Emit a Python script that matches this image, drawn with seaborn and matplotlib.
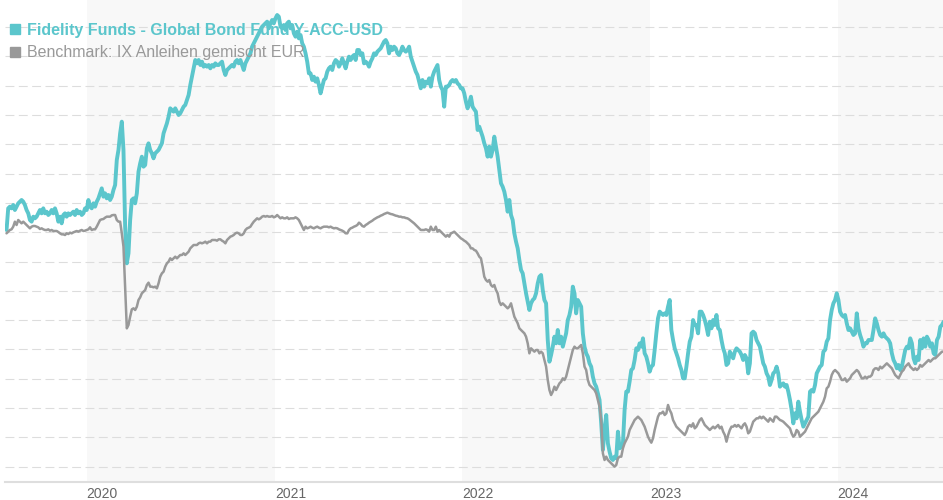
import numpy as np
import pandas as pd
import matplotlib
matplotlib.use("Agg")
import matplotlib.pyplot as plt
import matplotlib.dates as mdates
from matplotlib.lines import Line2D
import seaborn as sns

# Series names shown in the legend
fund_name = "Fidelity Funds - Global Bond Fund Y-ACC-USD"
bench_name = "Benchmark: IX Anleihen gemischt EUR"

# Sampling of the price history (one observation every 78 hours)
start_date = "2019-07-29"
sample_step = "78h"

# Fund index level
fund_values = [
    71.0, 77.5, 78.0, 77.5, 78.5, 77.0, 78.0, 79.0, 79.5, 80.0,
    79.5, 78.5, 77.0, 76.0, 74.0, 73.5, 75.0, 74.5, 75.0, 76.0,
    77.0, 76.0, 77.5, 76.0, 76.5, 75.5, 76.0, 77.0, 76.0, 77.5,
    76.0, 73.5, 75.0, 73.0, 75.5, 76.0, 75.0, 76.0, 75.5, 76.0,
    76.5, 75.5, 77.0, 76.0, 76.5, 75.5, 76.0, 77.5, 77.0, 80.0,
    78.0, 77.5, 79.0, 78.0, 79.5, 80.5, 82.0, 83.5, 81.0, 82.0,
    80.5, 81.5, 80.0, 81.0, 83.0, 84.5, 92.0, 95.0, 100.0, 103.5,
    95.0, 72.0, 61.0, 64.0, 74.0, 80.0, 80.5, 79.0, 82.0, 88.5,
    91.0, 93.0, 90.0, 90.5, 95.5, 97.0, 95.0, 94.0, 92.5,
    94.0, 94.5, 95.0, 96.0, 97.0, 100.0, 101.5, 103.0, 105.0, 107.5,
    107.0, 106.5, 107.5, 106.5, 105.5, 106.0, 107.0, 108.0, 108.5, 110.0,
    111.5, 114.5, 117.0, 119.5, 122.0, 121.0, 122.0, 120.5, 121.5, 120.0,
    120.5, 120.0, 120.5, 119.5, 120.5, 120.0, 121.0, 120.5, 120.5, 121.0,
    121.5, 119.0, 117.5, 119.0, 119.5, 120.0, 120.5, 120.0, 121.5, 122.0,
    121.0, 122.0, 120.5, 119.0, 121.0, 122.0, 123.0, 124.0, 126.0, 127.0,
    128.0, 129.0, 130.0, 131.0, 132.0, 132.5, 133.0, 133.5, 131.5, 133.0,
    134.0, 133.0, 134.5, 135.5, 135.0, 132.0, 131.5, 132.5, 131.0, 133.0,
    133.5, 131.5, 132.5, 130.0, 129.0, 130.5, 128.5, 129.5, 127.0, 126.0,
    124.0, 121.5, 118.0,
    118.0, 116.0, 117.0, 115.5, 116.5, 114.5, 112.0, 114.0, 116.0, 116.5,
    118.5, 119.5, 120.0, 119.0, 121.0, 122.0, 121.5, 120.0, 121.0, 122.5,
    121.0, 119.5, 121.5, 123.0, 122.0, 123.0, 123.5, 122.0, 125.0, 125.0,
    123.5, 124.0, 121.0, 121.5, 121.0, 120.0, 121.5, 122.5, 124.0, 123.5,
    124.5, 125.0, 125.5, 126.5, 127.5, 128.0, 127.0, 124.0, 126.0, 125.0,
    126.0, 125.5, 124.0, 123.5, 124.5, 126.0, 125.0, 124.5, 125.0, 126.0,
    123.0, 121.5, 120.0, 118.5, 117.5, 115.5, 113.5, 116.0, 114.0, 115.5,
    115.0, 116.5, 114.0, 117.0, 118.5, 119.5, 120.5, 116.0, 114.0, 113.0,
    108.0, 114.0, 114.0, 114.5, 115.5, 116.0, 115.5, 116.0, 115.0, 114.5,
    113.5, 113.5, 112.0,
    109.5, 107.5, 109.0, 111.0, 108.0, 107.2, 106.5, 101.0, 102.0, 100.5,
    99.0, 97.0, 95.5, 93.0, 96.0, 93.0, 95.0, 99.0, 96.0, 93.0,
    89.0, 85.0, 84.0, 82.5, 80.0, 76.5, 80.0, 75.5, 74.0, 70.0,
    67.5, 65.5, 62.0, 59.0, 58.0, 55.0, 52.0, 49.5, 47.0, 49.0,
    50.0, 50.5, 52.0, 55.0, 57.0, 57.5, 53.0, 50.0, 49.0, 38.0,
    31.5, 33.5, 36.0, 39.0, 37.0, 41.0, 37.0, 39.0, 36.0, 38.0,
    40.0, 44.0, 45.5, 48.0, 54.0, 52.0, 46.0, 50.0, 49.0, 48.0,
    40.0, 36.0, 34.0, 33.0, 31.0, 30.0, 27.0, 25.0, 24.0, 22.0,
    20.0, 13.0, 5.0, 11.0, 15.5, 7.0, 4.5, 2.5, 2.0, 3.0,
    2.5, 10.5, 5.5,
    6.0, 7.0, 17.0, 22.5, 22.5, 25.5, 29.0, 29.5, 32.0, 35.5,
    35.0, 37.0, 36.0, 38.5, 34.0, 33.0, 31.0, 28.5, 30.0, 30.5,
    35.0, 40.0, 44.5, 46.5, 46.0, 45.5, 46.0, 45.5, 48.0, 50.0,
    41.0, 38.0, 35.5, 34.0, 32.5, 30.5, 29.0, 26.5, 26.5, 30.0,
    34.0, 37.5, 39.0, 44.0, 42.5, 42.5, 40.0, 46.5, 46.5, 45.5,
    44.0, 42.0, 39.5, 43.5, 41.5, 44.0, 42.5, 45.5, 41.5, 41.0,
    38.0, 35.5, 34.0, 30.5, 31.0, 34.5, 33.5, 32.5, 34.5, 35.5,
    35.0, 34.5, 33.5, 32.0, 33.5, 32.5, 28.0, 31.0, 40.0, 40.5,
    40.0, 38.0, 37.0, 36.0, 33.5, 31.0, 30.0, 28.0, 27.0, 24.5,
    26.0, 28.0, 28.5,
    30.0, 28.0, 24.0, 24.5, 25.0, 24.0, 24.5, 22.5, 20.0, 17.0,
    13.0, 16.0, 14.5, 19.5, 16.5, 14.0, 12.0, 13.0, 14.0, 15.0,
    22.5, 23.0, 22.5, 24.5, 28.0, 29.0, 30.0, 30.5, 34.5, 35.0,
    37.5, 38.5, 44.0, 47.0, 49.0, 50.0, 52.0, 50.0, 46.5, 45.5,
    45.0, 45.5, 43.0, 41.0, 41.5, 40.5, 39.5, 40.0, 46.0, 41.5,
    39.5, 38.0, 36.0, 37.0, 37.0, 38.0, 38.0, 38.0, 41.0, 44.5,
    43.0, 41.0, 39.5, 39.0, 40.0, 39.0, 38.5, 38.0, 37.0, 34.0,
    32.0, 31.0, 29.5, 30.5, 29.0, 30.0, 32.5, 35.0, 36.0, 35.5,
    38.5, 37.0, 32.5, 31.0, 33.0, 32.0, 38.0, 35.5, 38.5, 36.0,
    39.0, 38.0, 36.0, 37.0, 34.0, 33.5, 38.0, 39.0, 42.0, 42.5,
    43.5,
]

# Benchmark index level
bench_values = [
    70.0, 70.5, 71.0, 71.2, 72.0, 73.5, 72.5, 74.0, 73.5, 73.0,
    73.5, 73.0, 72.5, 72.0, 71.5, 72.0, 72.2, 72.2, 72.0, 71.8,
    71.3, 71.5, 71.2, 71.0, 71.0, 71.2, 70.8, 71.0, 70.7, 70.7,
    70.7, 70.4, 70.0, 69.7, 69.7, 69.5, 70.0, 69.8, 70.2, 70.0,
    70.3, 70.5, 70.7, 70.5, 70.8, 71.0, 70.7, 70.8, 71.0, 71.2,
    71.8, 71.0, 71.2, 71.2, 72.0, 73.0, 74.0, 74.2, 74.3, 74.7,
    75.0, 75.0, 75.0, 75.4, 75.5, 75.5, 74.0, 73.5, 73.5, 70.0,
    66.0, 54.0, 41.5, 42.5, 45.0, 47.2, 47.5, 47.0, 48.0, 50.0,
    50.8, 52.0, 52.5, 53.0, 54.5, 55.2, 54.0, 54.0, 53.8,
    54.0, 53.5, 55.0, 57.0, 58.0, 58.5, 60.0, 61.0, 61.5, 62.5,
    62.0, 62.5, 63.0, 62.5, 63.0, 63.5, 63.5, 64.0, 63.5, 64.0,
    64.5, 65.5, 66.0, 66.5, 66.5, 66.5, 67.0, 67.2, 67.0, 67.2,
    67.5, 67.0, 67.5, 67.5, 68.0, 68.0, 68.0, 67.8, 68.2, 68.2,
    67.8, 67.5, 67.0, 68.0, 68.5, 69.0, 69.2, 69.5, 70.0, 70.2,
    70.0, 69.5, 69.5, 70.0, 71.0, 71.5, 71.7, 72.0, 72.8, 73.5,
    74.0, 74.5, 74.2, 74.5, 75.0, 75.2, 75.0, 75.2, 75.0, 75.0,
    75.2, 74.8, 75.0, 75.5, 75.0, 74.5, 74.8, 74.5, 74.5, 74.8,
    74.3, 74.5, 74.5, 74.5, 74.8, 74.5, 74.0, 73.0, 72.0, 71.0,
    72.0, 71.5, 71.7,
    72.0, 71.7, 71.5, 71.8, 72.0, 71.7, 71.5, 71.8, 72.0, 72.0,
    72.0, 71.8, 72.0, 71.7, 71.5, 71.6, 71.5, 71.2, 71.0, 70.8,
    70.5, 70.0, 70.0, 71.0, 71.5, 71.7, 72.0, 72.2, 72.5, 73.2,
    72.8, 72.2, 72.0, 72.5, 72.8, 73.2, 73.5, 73.8, 74.2, 74.5,
    74.8, 75.0, 75.3, 75.5, 75.8, 76.0, 76.2, 76.0, 75.8, 75.7,
    75.5, 75.3, 75.2, 75.0, 75.0, 74.8, 74.8, 74.6, 74.5, 74.2,
    73.8, 73.4, 73.0, 72.5, 72.0, 71.5, 71.0, 71.0, 71.0, 71.2,
    71.0, 70.5, 72.0, 71.0, 71.0, 72.0, 70.5, 71.0, 70.5, 70.0,
    69.5, 69.0, 69.5, 69.0, 70.0, 70.2, 70.5, 70.0, 69.5, 69.0,
    68.5, 68.2, 67.8,
    67.5, 67.0, 66.5, 65.5, 65.5, 65.0, 64.8, 64.0, 63.0, 62.5,
    60.0, 57.0, 56.0, 55.5, 56.0, 54.5, 54.0, 54.5, 53.0, 52.0,
    49.5, 48.5, 49.0, 48.5, 48.0, 47.5, 48.0, 49.0, 47.0, 45.0,
    44.0, 43.0, 41.5, 41.0, 40.5, 40.0, 39.0, 37.0, 34.0, 35.5,
    35.0, 34.5, 35.0, 35.0, 34.0, 34.5, 34.0, 32.0, 30.0, 26.0,
    23.0, 21.5, 22.5, 24.0, 23.0, 24.0, 25.0, 25.5, 26.5, 26.0,
    27.0, 29.0, 31.0, 33.0, 35.0, 36.0, 35.5, 35.5, 36.0, 36.5,
    34.0, 30.0, 29.0, 26.0, 24.5, 24.0, 23.5, 23.0, 22.0, 20.0,
    18.0, 14.0, 4.0, 2.0, 3.0, 2.0, 1.5, 1.0, 0.5, 0.0,
    0.5, 2.5, 3.0,
    3.0, 5.5, 7.0, 8.0, 9.0, 11.0, 12.0, 13.0, 14.0, 14.5,
    15.0, 14.5, 14.0, 13.0, 12.0, 10.5, 9.0, 8.0, 7.2, 8.5,
    11.0, 13.0, 15.0, 16.0, 16.0, 16.5, 15.5, 16.0, 18.5, 17.0,
    16.0, 14.0, 13.0, 12.0, 11.5, 11.0, 10.5, 10.0, 9.5, 10.5,
    12.0, 12.5, 12.0, 13.0, 11.5, 12.0, 13.0, 14.0, 14.5, 13.5,
    12.5, 12.0, 11.5, 11.0, 11.5, 12.0, 11.5, 12.0, 12.5, 11.5,
    12.0, 10.5, 9.5, 7.5, 9.5, 11.0, 12.0, 12.0, 12.5, 12.0,
    12.5, 12.0, 11.5, 12.5, 13.0, 12.0, 10.0, 10.5, 12.0, 13.5,
    14.0, 14.5, 14.5, 15.0, 14.5, 15.0, 14.5, 14.0, 13.5, 14.5,
    14.0, 13.5, 15.0,
    15.0, 14.5, 14.0, 13.8, 13.5, 13.0, 12.5, 12.0, 11.5, 10.0,
    9.0, 9.5, 11.0, 10.5, 9.0, 9.5, 10.0, 10.5, 11.5, 12.5,
    13.5, 14.5, 15.0, 15.5, 16.0, 16.5, 17.5, 18.5, 19.5, 21.0,
    23.5, 24.0, 25.5, 27.5, 28.5, 29.0, 28.5, 28.0, 27.0, 26.0,
    26.0, 26.5, 25.5, 26.0, 26.5, 27.5, 28.0, 28.5, 29.0, 28.5,
    27.5, 26.5, 26.5, 27.0, 26.5, 27.0, 27.0, 27.5, 29.0, 29.5,
    29.5, 29.0, 30.0, 29.5, 30.0, 30.5, 31.0, 30.5, 30.0, 29.5,
    28.5, 27.5, 27.0, 26.5, 27.5, 28.5, 29.0, 30.0, 30.5, 31.0,
    30.0, 29.5, 29.0, 29.5, 29.0, 29.5, 30.5, 30.0, 30.5, 31.0,
    31.5, 32.0, 31.5, 32.0, 32.5, 32.5, 33.0, 33.5, 34.0, 34.5,
    34.5,
]

# Alternate years get a light background band
shaded_years = [2020, 2022, 2024]

fund_color = "#5bc6cc"
bench_color = "#999999"

dates = pd.date_range(start_date, periods=len(fund_values), freq=sample_step)
df = pd.DataFrame({"date": dates, "fund": fund_values, "bench": bench_values})

sns.set_theme(style="white")
plt.rcParams["font.family"] = ["Liberation Sans", "DejaVu Sans"]

fig = plt.figure(figsize=(9.43, 5.0), dpi=100)
ax = fig.add_axes([5 / 943, 18 / 500, 938 / 943, 482 / 500])

for yr in shaded_years:
    ax.axvspan(pd.Timestamp(f"{yr}-01-01"), pd.Timestamp(f"{yr + 1}-01-01"),
               color="#f8f8f8", lw=0, zorder=0)

sns.lineplot(data=df, x="date", y="fund", color=fund_color, linewidth=2.8,
             ax=ax, zorder=3)
sns.lineplot(data=df, x="date", y="bench", color=bench_color, linewidth=1.8,
             ax=ax, zorder=4)

# Horizontal dashed guide lines, no value labels
grid_step = 8.79
ax.set_yticks(np.arange(16) * grid_step)
ax.set_yticklabels([])
ax.yaxis.grid(True, color="#dddddd", linestyle=(0, (8, 4)), linewidth=0.8)
ax.xaxis.grid(False)
ax.set_axisbelow(True)
ax.set_ylim(-4.6, 140)
ax.set_xlim(pd.Timestamp("2019-07-26"), pd.Timestamp("2024-07-24"))
ax.set_xlabel("")
ax.set_ylabel("")

ax.xaxis.set_major_locator(mdates.YearLocator())
ax.xaxis.set_major_formatter(mdates.DateFormatter("%Y"))
ax.tick_params(axis="x", length=0, pad=3.5, labelsize=10, labelcolor="#666666")
ax.tick_params(axis="y", length=0)
for lbl in ax.get_xticklabels():
    lbl.set_horizontalalignment("left")

for side in ["top", "left", "right"]:
    ax.spines[side].set_visible(False)
ax.spines["bottom"].set_color("#dedede")
ax.spines["bottom"].set_linewidth(1.5)

handles = [
    Line2D([], [], marker="s", linestyle="none", markersize=6.5, color=fund_color),
    Line2D([], [], marker="s", linestyle="none", markersize=6.5, color=bench_color),
]
leg = ax.legend(handles, [fund_name, bench_name], loc="upper left",
                bbox_to_anchor=(9 / 943, 1 - 23 / 500), bbox_transform=fig.transFigure,
                frameon=False, fontsize=11.5, handlelength=0.8, handletextpad=0.32,
                labelspacing=0.45, borderpad=0, borderaxespad=0)
leg.set_zorder(10)
texts = leg.get_texts()
texts[0].set_color(fund_color)
texts[0].set_fontweight("bold")
texts[1].set_color(bench_color)

fig.savefig("out.png", dpi=100)
